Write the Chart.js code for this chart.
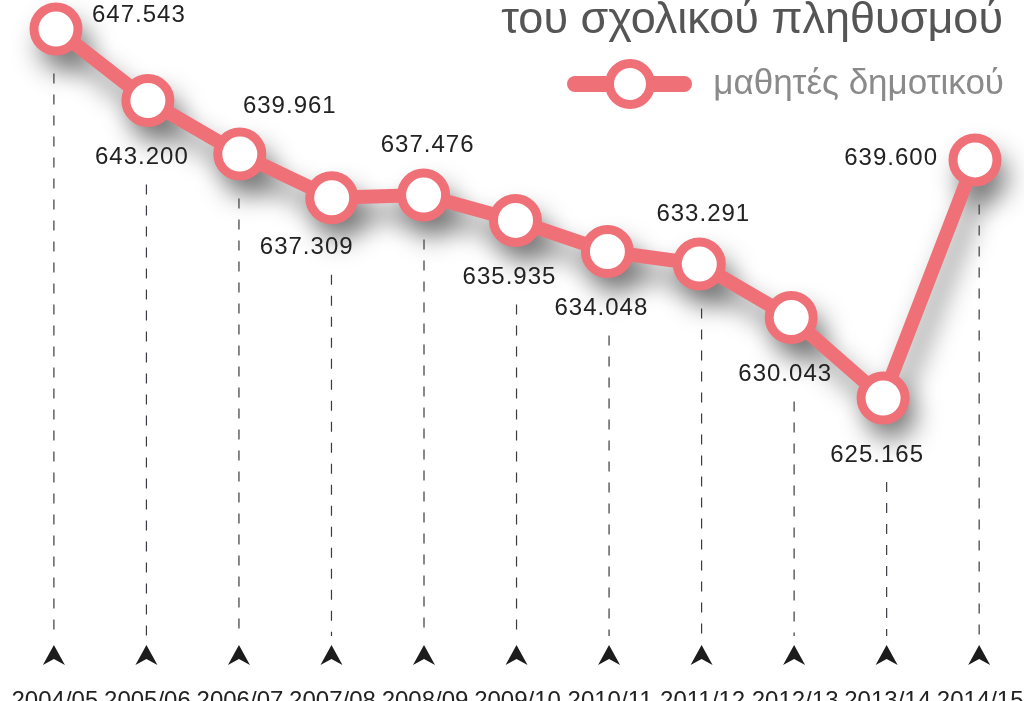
<!DOCTYPE html>
<html>
<head>
<meta charset="utf-8">
<script src="https://cdn.jsdelivr.net/npm/chart.js@4.4.1/dist/chart.umd.min.js"></script>
<style>
  html, body { margin: 0; padding: 0; background: #ffffff; overflow: hidden; }
  #wrap { position: relative; width: 1024px; height: 720px; }
  #chart { position: absolute; left: 0; top: 0; }
  .title { position: absolute; right: 21px; top: -5px; font-family: "Liberation Sans", Arial, sans-serif;
           font-size: 45px; line-height: 45px; color: #555555; white-space: nowrap; }
  .legend-text { position: absolute; right: 20px; top: 64px; font-family: "Liberation Sans", Arial, sans-serif;
           font-size: 35px; line-height: 35px; color: #8a8a8a; white-space: nowrap; }
  .legend-bar { position: absolute; left: 567px; top: 76px; width: 125px; height: 16px; border-radius: 8px; background: #f07078; }
  .legend-dot { position: absolute; left: 605px; top: 59px; width: 50px; height: 50px; box-sizing: border-box;
           border: 9px solid #f07078; border-radius: 50%; background: #ffffff; }
</style>
</head>
<body>
<div id="wrap">
  <canvas id="chart"></canvas>
  <div class="title">του σχολικού πληθυσμού</div>
  <div class="legend-bar"></div>
  <div class="legend-dot"></div>
  <div class="legend-text">μαθητές δημοτικού</div>
</div>
<script>
// ---- data ----
const categories = ['2004/05', '2005/06', '2006/07', '2007/08', '2008/09', '2009/10',
                    '2010/11', '2011/12', '2012/13', '2013/14', '2014/15'];
const seriesName = 'μαθητές δημοτικού';
const pupils = [647543, 643200, 639961, 637309, 637476, 635935, 634048, 633291, 630043, 625165, 639600];
const labelPlacement = ['right', 'below', 'above-right', 'below-left', 'above', 'below',
                        'below', 'above', 'below', 'below', 'left'];

// ---- styles ----
const LINE_COLOR = '#f07078';
const LABEL_FONT = '24px "Liberation Sans", Arial, sans-serif';
const LABEL_COLOR = '#222222';

function fmt(v) {
  return String(v).replace(/\B(?=(\d{3})+(?!\d))/g, '.');
}

const OFFSETS = {
  'right':       { dx: 36,  dy: -14, align: 'left' },
  'left':        { dx: -37, dy: -2,  align: 'right' },
  'above':       { dx: 4,   dy: -50, align: 'center' },
  'above-right': { dx: 50,  dy: -48, align: 'center' },
  'below':       { dx: -6,  dy: 57,  align: 'center' },
  'below-left':  { dx: -25, dy: 50,  align: 'center' }
};

// soft drop shadow under the line and markers (shadow only, drawn before the dataset)
const shadowPlugin = {
  id: 'shadow',
  beforeDatasetsDraw(chart) {
    const ctx = chart.ctx;
    const meta = chart.getDatasetMeta(0);
    const pts = meta.data;
    const SHIFT = 3000;
    ctx.save();
    ctx.shadowColor = 'rgba(0,0,0,0.42)';
    ctx.shadowBlur = 26;
    ctx.shadowOffsetX = SHIFT + 8;
    ctx.shadowOffsetY = 17;
    ctx.strokeStyle = '#000';
    ctx.fillStyle = '#000';
    ctx.lineWidth = 16;
    ctx.lineJoin = 'round';
    ctx.lineCap = 'round';
    ctx.beginPath();
    pts.forEach((p, i) => {
      if (i === 0) ctx.moveTo(p.x - SHIFT, p.y); else ctx.lineTo(p.x - SHIFT, p.y);
    });
    ctx.stroke();
    pts.forEach((p) => {
      ctx.beginPath();
      ctx.arc(p.x - SHIFT, p.y, 26.5, 0, Math.PI * 2);
      ctx.fill();
    });
    ctx.restore();
  }
};

const decorPlugin = {
  id: 'decor',
  beforeDatasetsDraw(chart) {
    const ctx = chart.ctx;
    const x2 = chart.scales.x2;
    const meta = chart.getDatasetMeta(0);
    const bottom = chart.chartArea.bottom;
    ctx.save();
    categories.forEach((c, i) => {
      const px = x2.getPixelForValue(i);
      const pt = meta.data[i];
      const off = OFFSETS[labelPlacement[i]];
      let top = pt.y + 26.5;
      if (labelPlacement[i].startsWith('below')) top = Math.max(top, pt.y + off.dy + 9);
      top += 18;
      // dashed guide
      ctx.beginPath();
      ctx.setLineDash([10, 11]);
      ctx.lineWidth = 1.2;
      ctx.strokeStyle = '#3a3a40';
      ctx.moveTo(px, top);
      ctx.lineTo(px, bottom - 44);
      ctx.stroke();
      // arrow head
      ctx.setLineDash([]);
      ctx.beginPath();
      ctx.fillStyle = '#1c1c1c';
      ctx.moveTo(px, bottom - 35);
      ctx.lineTo(px + 11, bottom - 15);
      ctx.lineTo(px, bottom - 21);
      ctx.lineTo(px - 11, bottom - 15);
      ctx.closePath();
      ctx.fill();
    });
    ctx.restore();
  }
};

const labelPlugin = {
  id: 'valueLabels',
  afterDatasetsDraw(chart) {
    const ctx = chart.ctx;
    const meta = chart.getDatasetMeta(0);
    ctx.save();
    ctx.font = LABEL_FONT;
    ctx.fillStyle = LABEL_COLOR;
    ctx.textBaseline = 'middle';
    if ('letterSpacing' in ctx) ctx.letterSpacing = '1px';
    pupils.forEach((v, i) => {
      const pt = meta.data[i];
      const off = OFFSETS[labelPlacement[i]];
      ctx.textAlign = off.align;
      ctx.fillText(fmt(v), pt.x + off.dx, pt.y + off.dy);
    });
    ctx.restore();
  }
};

new Chart(document.getElementById('chart'), {
  type: 'line',
  data: {
    labels: categories,
    datasets: [{
      label: seriesName,
      data: pupils,
      xAxisID: 'x',
      yAxisID: 'y',
      borderColor: LINE_COLOR,
      borderWidth: 14,
      borderJoinStyle: 'round',
      borderCapStyle: 'round',
      tension: 0,
      fill: false,
      clip: false,
      pointRadius: 22,
      pointHoverRadius: 22,
      pointBorderWidth: 9,
      pointBackgroundColor: '#ffffff',
      pointBorderColor: LINE_COLOR
    }]
  },
  options: {
    responsive: true,
    maintainAspectRatio: false,
    animation: false,
    events: [],
    layout: { autoPadding: false, padding: { left: 56, right: 49, top: 0, bottom: 0 } },
    plugins: {
      legend: { display: false },
      title: { display: false },
      tooltip: { enabled: false }
    },
    scales: {
      x: { type: 'category', display: false, offset: false },
      y: { type: 'linear', display: false, min: 608065, max: 649302 },
      x2: {
        type: 'linear',
        position: 'bottom',
        min: 0.0227,
        max: 9.955,
        grid: { display: false, drawTicks: false },
        border: { display: false },
        afterBuildTicks(scale) {
          scale.ticks = categories.map((c, i) => ({ value: i }));
        },
        afterFit(scale) {
          scale.height = 40;
          scale.paddingLeft = 0;
          scale.paddingRight = 0;
        },
        ticks: {
          autoSkip: false,
          maxRotation: 0,
          padding: 7,
          labelOffset: 1,
          color: '#222222',
          font: { family: '"Liberation Sans", Arial, sans-serif', size: 24 },
          callback: (v) => categories[v]
        }
      }
    }
  },
  plugins: [shadowPlugin, decorPlugin, labelPlugin]
});
</script>
</body>
</html>
